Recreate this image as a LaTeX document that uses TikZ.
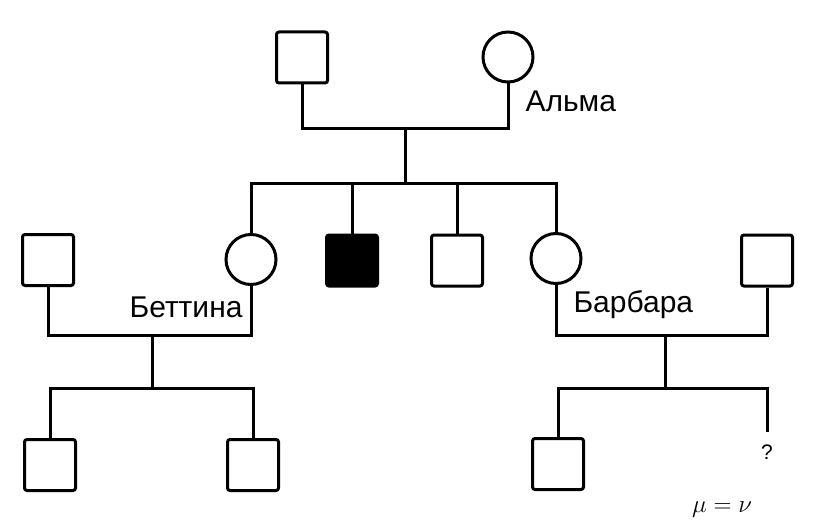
\documentclass[tikz,border=0pt]{standalone}
\usepackage{fontspec}
\setmainfont{Liberation Sans}
\usetikzlibrary{shapes}

\begin{document}
\begin{tikzpicture}[x=1pt, y=-1pt, line width=3pt,
    male/.style={draw, rectangle, rounded corners=2.5pt, minimum size=51pt, inner sep=0pt},
    female/.style={draw, circle, minimum size=50pt, inner sep=0pt},
    sick/.style={male, fill=black},
    tag/.style={font=\fontsize{30}{36}\selectfont, inner sep=0pt}]
\useasboundingbox (0,0) rectangle (833,532);
\node[male] (opa) at (302,57.5) {};
\node[female] (alma) at (508,57) {};
\node[tag, anchor=base west] (almaname) at (524,112) {Альма};
\coordinate (p0) at (405,129);
\coordinate (s0) at (405,184);
\draw (opa) |- (p0) -| (alma);
\draw (p0) -- (s0);
\node[female] (bettina) at (251,259.5) {};
\node[sick] (ill) at (352,260.5) {};
\node[male] (bro) at (457,260.5) {};
\node[female] (barbara) at (556,258.5) {};
\foreach \n in {bettina,ill,bro,barbara} {
    \draw (\n) |- (s0);
}
\node[male] (husb1) at (48,260) {};
\node[male] (husb2) at (767,260.5) {};
\node[tag, anchor=base east] (bettinaname) at (244,317) {Беттина};
\node[tag, anchor=base west] (barbaraname) at (572,312) {Барбара};
\coordinate (p1) at (152,335);
\coordinate (s1) at (152,388);
\draw (husb1) |- (p1) -| (bettina);
\draw (p1) -- (s1);
\coordinate (p2) at (665,335);
\coordinate (s2) at (665,388);
\draw (barbara) |- (p2) -| (husb2);
\draw (p2) -- (s2);
\node[male] (gc1) at (50,465) {};
\node[male] (gc2) at (253,465) {};
\node[male] (gc3) at (558,464) {};
\coordinate (gc4) at (767,432);
\foreach \n in {gc1,gc2} {
    \draw (\n) |- (s1);
}
\foreach \n in {gc3,gc4} {
    \draw (\n) |- (s2);
}
\node[font=\fontsize{21}{25}\selectfont] (q) at (767,452) {?};
\node[font=\fontsize{24}{28}\selectfont] (mn) at (722,510) {$\mu = \nu$};
\end{tikzpicture}
\end{document}
